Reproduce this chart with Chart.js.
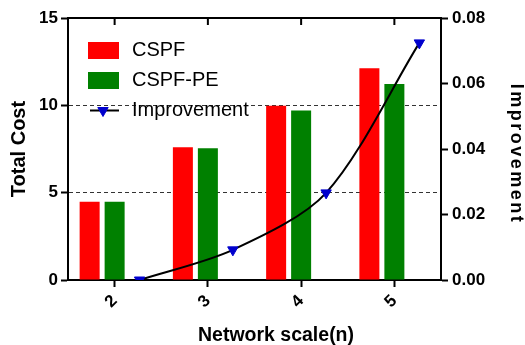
<!DOCTYPE html>
<html>
<head>
<meta charset="utf-8">
<script src="https://cdn.jsdelivr.net/npm/chart.js@4/dist/chart.umd.min.js"></script>
<style>
  body { margin: 0; background: #fff; }
  #wrap { width: 525px; height: 345px; }
</style>
</head>
<body>
<div id="wrap"><canvas id="costChart"></canvas></div>
<script>
// data
let scaleLabels = ["2", "3", "4", "5"];
let cspf = [4.48, 7.6, 9.98, 12.12];
let cspfPe = [4.48, 7.55, 9.7, 11.22];
let improvement = [0.0, 0.0092, 0.0266, 0.0724];
let costTicks = [0, 5, 10, 15];
let improveTicks = [0, 0.02, 0.04, 0.06, 0.08];

let font = "'Liberation Sans', Arial, sans-serif";
Chart.defaults.font.family = font;
Chart.defaults.color = "#000";

// each group is three slots: red | green (on the tick) | line point
let slot = 0.268; // one slot as a fraction of a category
let first = Number(scaleLabels[0]);
let last = Number(scaleLabels[scaleLabels.length - 1]);

// legend drawn inside the plot, top left
let boxLegend = {
  id: "boxLegend",
  afterDraw(chart) {
    let ctx = chart.ctx;
    let area = chart.chartArea;
    let x = area.left + 20;
    let y = area.top + 24;
    ctx.save();
    ctx.font = "20px " + font;
    ctx.textBaseline = "middle";
    chart.data.datasets.forEach((ds, i) => {
      let top = y + i * 30;
      let mid = top + 8.5;
      if (ds.type === "line") {
        ctx.strokeStyle = ds.borderColor;
        ctx.lineWidth = 2;
        ctx.beginPath();
        ctx.moveTo(x + 2, mid);
        ctx.lineTo(x + 31, mid);
        ctx.stroke();
        ctx.fillStyle = ds.pointBackgroundColor;
        ctx.strokeStyle = ds.pointBorderColor;
        ctx.lineWidth = 1;
        Chart.helpers.drawPoint(ctx, { pointStyle: "triangle", rotation: 180, radius: 6, borderWidth: 1 }, x + 15, mid);
      } else {
        ctx.fillStyle = ds.backgroundColor;
        ctx.fillRect(x, top, 31, 17);
      }
      ctx.fillStyle = "#000";
      ctx.fillText(ds.label, x + 44, mid);
    });
    ctx.restore();
  }
};

// top frame line with small inward ticks
let topFrame = {
  id: "topFrame",
  afterDraw(chart) {
    let ctx = chart.ctx;
    let area = chart.chartArea;
    let xs = chart.scales.x;
    ctx.save();
    ctx.strokeStyle = "#000";
    ctx.lineWidth = 2;
    ctx.beginPath();
    ctx.moveTo(area.left - 1, area.top);
    ctx.lineTo(area.right + 1, area.top);
    for (let i = 0; i < scaleLabels.length; i++) {
      let px = xs.getPixelForTick(i);
      ctx.moveTo(px, area.top);
      ctx.lineTo(px, area.top + 7);
    }
    ctx.stroke();
    ctx.restore();
  }
};

// axis titles (the right one is spaced out like the original)
let axisTitles = {
  id: "axisTitles",
  afterDraw(chart) {
    let ctx = chart.ctx;
    let area = chart.chartArea;
    let midY = (area.top + area.bottom) / 2;
    ctx.save();
    ctx.fillStyle = "#000";
    ctx.textAlign = "center";
    ctx.textBaseline = "middle";

    ctx.font = "bold 20px " + font;
    ctx.save();
    ctx.translate(19, midY);
    ctx.rotate(-Math.PI / 2);
    ctx.fillText("Total Cost", 0, 0);
    ctx.restore();

    ctx.font = "bold 18px " + font;
    ctx.letterSpacing = "2.5px";
    ctx.save();
    ctx.translate(516, midY + 5);
    ctx.rotate(Math.PI / 2);
    ctx.fillText("Improvement", 0, 0);
    ctx.restore();
    ctx.letterSpacing = "0px";

    ctx.font = "bold 19.5px " + font;
    ctx.fillText("Network scale(n)", 276, 336);
    ctx.restore();
  }
};

let ctx = document.querySelector("#costChart").getContext("2d");

let chart = new Chart(ctx, {
  type: "bar",
  data: {
    labels: scaleLabels,
    datasets: [
      {
        label: "CSPF",
        data: scaleLabels.map((s, i) => ({ x: Number(s), y: cspf[i] })),
        xAxisID: "xr",
        yAxisID: "y",
        backgroundColor: "#ff0000",
        grouped: false,
        maxBarThickness: 20,
        order: 1,
      },
      {
        label: "CSPF-PE",
        data: cspfPe,
        xAxisID: "x",
        yAxisID: "y",
        backgroundColor: "#008000",
        grouped: false,
        maxBarThickness: 20,
        order: 1,
      },
      {
        type: "line",
        label: "Improvement",
        data: scaleLabels.map((s, i) => ({ x: Number(s), y: improvement[i] })),
        xAxisID: "xl",
        yAxisID: "y2",
        borderColor: "#000",
        borderWidth: 2,
        tension: 0.3,
        pointStyle: "triangle",
        rotation: 180,
        pointRadius: 6,
        pointBorderWidth: 1,
        pointBackgroundColor: "#0000cd",
        pointBorderColor: "#0000cd",
        order: 0,
      },
    ],
  },
  options: {
    responsive: true,
    maintainAspectRatio: false,
    animation: false,
    layout: { padding: { top: 18, left: 0, right: 0, bottom: 0 } },
    plugins: {
      legend: { display: false },
      tooltip: { enabled: false },
    },
    scales: {
      x: {
        type: "category",
        offset: true,
        grid: { offset: false, drawOnChartArea: false, tickColor: "#000", tickLength: 7, tickWidth: 2 },
        border: { color: "#000", width: 2 },
        ticks: { font: { size: 17, weight: "bold" }, minRotation: 45, maxRotation: 45, padding: 4 },
        afterFit: (s) => { s.height = 65; },
      },
      xr: { type: "linear", display: false, offset: false, min: first - 0.5 + slot, max: last + 0.5 + slot },
      xl: { type: "linear", display: false, offset: false, min: first - 0.5 - slot, max: last + 0.5 - slot },
      y: {
        position: "left",
        min: 0,
        max: 15,
        afterBuildTicks: (s) => { s.ticks = costTicks.map((v) => ({ value: v })); },
        grid: {
          color: (c) => (c.tick && c.tick.value > 0 && c.tick.value < 15 ? "#333" : "rgba(0,0,0,0)"),
          lineWidth: 1,
          tickColor: "#000",
          tickWidth: 2,
          tickLength: 7,
        },
        border: { color: "#000", width: 2, dash: [4, 3] },
        ticks: { font: { size: 17, weight: "bold" }, padding: 3 },
        afterFit: (s) => { s.width = 68; },
      },
      y2: {
        position: "right",
        min: 0,
        max: 0.08,
        afterBuildTicks: (s) => { s.ticks = improveTicks.map((v) => ({ value: v })); },
        grid: { drawOnChartArea: false, tickColor: "#000", tickWidth: 2, tickLength: 7 },
        border: { color: "#000", width: 2 },
        ticks: { font: { size: 17, weight: "bold" }, padding: 4, callback: (v) => v.toFixed(2) },
        afterFit: (s) => { s.width = 84; },
      },
    },
  },
  plugins: [boxLegend, topFrame, axisTitles],
});
</script>
</body>
</html>
